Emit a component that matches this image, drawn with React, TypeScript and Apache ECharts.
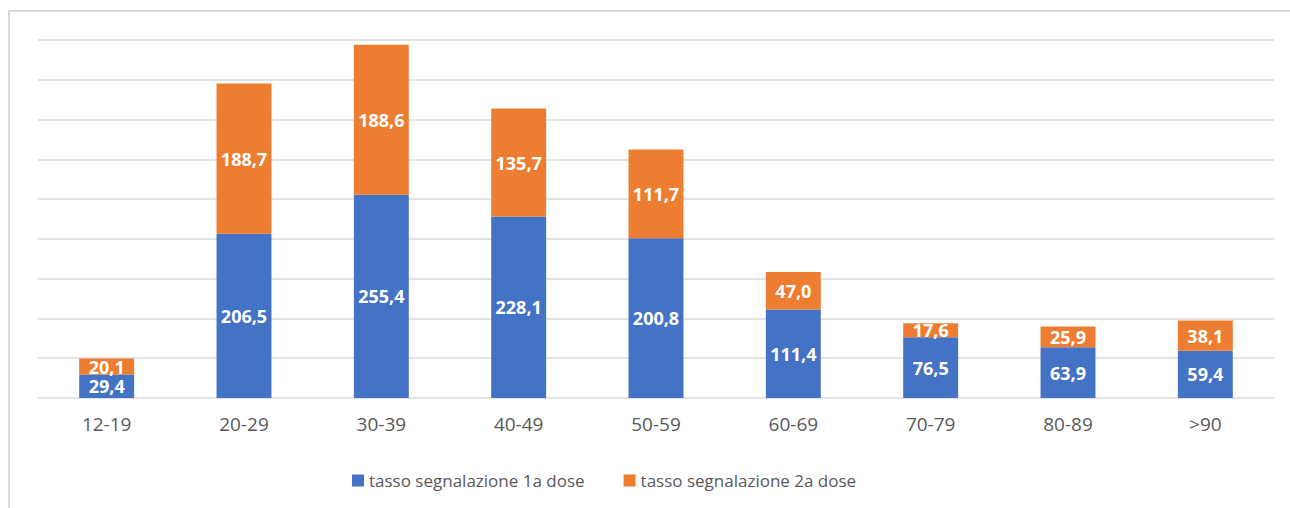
import React, { useEffect, useRef } from "react";
import * as echarts from "echarts";

const categories = ["12-19", "20-29", "30-39", "40-49", "50-59", "60-69", "70-79", "80-89", ">90"];
const dose1 = [29.4, 206.5, 255.4, 228.1, 200.8, 111.4, 76.5, 63.9, 59.4];
const dose2 = [20.1, 188.7, 188.6, 135.7, 111.7, 47.0, 17.6, 25.9, 38.1];
const seriesNames = ["tasso segnalazione 1a dose", "tasso segnalazione 2a dose"];

const FONT = "'Open Sans', sans-serif";
const fmt = (p: any) => Number(p.value).toFixed(1).replace(".", ",");

export default function App() {
  const ref = useRef<HTMLDivElement>(null);
  useEffect(() => {
    if (!ref.current) return;
    const chart = echarts.init(ref.current, null, { renderer: "svg" });
    const labelStyle = {
      show: true,
      position: "inside" as const,
      color: "#ffffff",
      fontWeight: "bold" as const,
      fontSize: 18,
      lineHeight: 16,
      fontFamily: FONT,
      formatter: fmt,
    };
    chart.setOption({
      animation: false,
      backgroundColor: "#ffffff",
      graphic: [
        {
          type: "rect",
          shape: { x: 9, y: 11, width: 1300, height: 520 },
          style: { fill: "none", stroke: "#d9d9d9", lineWidth: 2 },
          silent: true,
        },
      ],
      grid: { left: 38, right: 16, top: 40, bottom: 110 },
      legend: {
        left: 347,
        top: 467,
        itemWidth: 12,
        itemHeight: 12,
        itemGap: 39,
        icon: "rect",
        textStyle: { color: "#595959", fontSize: 17, fontFamily: FONT },
        data: seriesNames,
      },
      xAxis: {
        type: "category",
        data: categories,
        axisLine: { show: false },
        axisTick: { show: false },
        axisLabel: { color: "#595959", fontSize: 19, fontFamily: FONT, margin: 16 },
      },
      yAxis: {
        type: "value",
        min: 0,
        max: 450,
        interval: 50,
        axisLabel: { show: false },
        axisLine: { show: false },
        axisTick: { show: false },
        splitLine: { lineStyle: { color: "#d9d9d9", width: 1.5 } },
      },
      series: [
        {
          name: seriesNames[0],
          type: "bar",
          stack: "total",
          data: dose1,
          barWidth: "40%",
          itemStyle: { color: "#4472C4" },
          label: labelStyle,
        },
        {
          name: seriesNames[1],
          type: "bar",
          stack: "total",
          data: dose2,
          barWidth: "40%",
          itemStyle: { color: "#ED7D31" },
          label: labelStyle,
        },
      ],
    });
    return () => chart.dispose();
  }, []);
  return (
    <div
      ref={ref}
      style={{ position: "absolute", left: 0, top: 0, width: 1290, height: 508 }}
    />
  );
}
